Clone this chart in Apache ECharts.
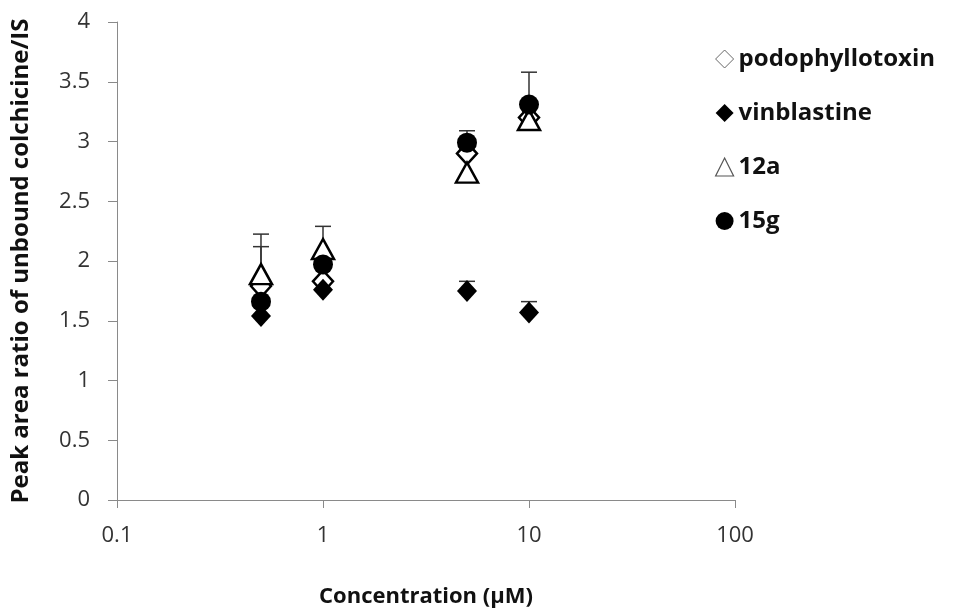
<!DOCTYPE html>
<html>
<head>
<meta charset="utf-8">
<script src="https://cdn.jsdelivr.net/npm/echarts@6/dist/echarts.min.js"></script>
<style>
  html, body { margin: 0; padding: 0; background: #fff; }
  #main { width: 956px; height: 613px; }
</style>
</head>
<body>
<div id="main"></div>
<script>
// data
var conc = [0.5, 1, 5, 10];
var podo = [1.79, 1.83, 2.9, 3.2];
var podoErr = [0.33, 0, 0, 0];
var vinb = [1.54, 1.76, 1.75, 1.57];
var vinbErr = [0, 0, 0.08, 0.09];
var c12a = [1.89, 2.1, 2.74, 3.18];
var c12aErr = [0.335, 0.19, 0, 0];
var c15g = [1.66, 1.97, 2.99, 3.31];
var c15gErr = [0, 0, 0.1, 0.27];
var yTicks = [0, 0.5, 1, 1.5, 2, 2.5, 3, 3.5, 4];

var FONT = "Open Sans";

function pairs(ys) {
  return conc.map(function (x, i) { return [x, ys[i]]; });
}
function errData(ys, es) {
  return conc.map(function (x, i) { return [x, ys[i], es[i]]; });
}

// upper error bars drawn with a custom series
function errSeries(ys, es) {
  return {
    type: "custom",
    silent: true,
    z: 1,
    data: errData(ys, es),
    renderItem: function (params, api) {
      var x = api.value(0), y = api.value(1), e = api.value(2);
      if (!e) return;
      var p0 = api.coord([x, y]);
      var p1 = api.coord([x, y + e]);
      var st = { stroke: "#333", lineWidth: 1.5 };
      return {
        type: "group",
        children: [
          { type: "line", shape: { x1: p0[0], y1: p0[1], x2: p1[0], y2: p1[1] }, style: st },
          { type: "line", shape: { x1: p1[0] - 8, y1: p1[1], x2: p1[0] + 8, y2: p1[1] }, style: st }
        ]
      };
    }
  };
}

var chartDom = document.getElementById("main");
var myChart = echarts.init(chartDom);
var option;

option = {
  animation: false,
  textStyle: { fontFamily: FONT },
  grid: { left: 117, right: 221, top: 22, bottom: 111 },
  legend: {
    orient: "vertical",
    left: 710,
    top: 42,
    itemGap: 30,
    itemWidth: 18,
    itemHeight: 18,
    textStyle: { fontFamily: FONT, fontSize: 24, fontWeight: "bold", color: "#111" },
    data: [
      { name: "podophyllotoxin", itemStyle: { color: "#fff", borderColor: "#666", borderWidth: 1 } },
      { name: "vinblastine" },
      { name: "12a", itemStyle: { color: "#fff", borderColor: "#555", borderWidth: 1.2 } },
      { name: "15g" }
    ]
  },
  xAxis: {
    type: "log",
    logBase: 10,
    min: 0.1,
    max: 100,
    name: "Concentration (µM)",
    nameLocation: "middle",
    nameGap: 86,
    nameTextStyle: { fontFamily: FONT, fontSize: 22, fontWeight: "bold", color: "#111" },
    axisLine: { lineStyle: { color: "#8a8a8a", width: 1 } },
    axisTick: { show: true, length: 8, lineStyle: { color: "#8a8a8a" } },
    minorTick: { show: false },
    splitLine: { show: false },
    axisLabel: { fontFamily: FONT, fontSize: 22, color: "#333", margin: 25 }
  },
  yAxis: {
    type: "value",
    min: 0,
    max: 4,
    interval: 0.5,
    name: "Peak area ratio of unbound colchicine/IS",
    nameLocation: "middle",
    nameGap: 84,
    nameTextStyle: { fontFamily: FONT, fontSize: 24, fontWeight: "bold", color: "#111" },
    axisLine: { show: true, lineStyle: { color: "#8a8a8a", width: 1 } },
    axisTick: { show: true, length: 9, lineStyle: { color: "#8a8a8a" } },
    splitLine: { show: false },
    axisLabel: {
      fontFamily: FONT, fontSize: 22, color: "#333", margin: 27,
      formatter: function (v) { return yTicks.indexOf(v) >= 0 ? String(v) : ""; }
    }
  },
  series: [
    errSeries(podo, podoErr),
    errSeries(vinb, vinbErr),
    errSeries(c12a, c12aErr),
    errSeries(c15g, c15gErr),
    {
      name: "podophyllotoxin", type: "scatter", z: 2,
      symbol: "diamond", symbolSize: [20, 22],
      itemStyle: { color: "#fff", borderColor: "#000", borderWidth: 2.5, opacity: 1 },
      data: pairs(podo)
    },
    {
      name: "vinblastine", type: "scatter", z: 2,
      symbol: "diamond", symbolSize: [20, 22],
      itemStyle: { color: "#000", opacity: 1 },
      data: pairs(vinb)
    },
    {
      name: "12a", type: "scatter", z: 2,
      symbol: "triangle", symbolSize: [22, 20],
      itemStyle: { color: "#fff", borderColor: "#000", borderWidth: 2.5, opacity: 1 },
      data: pairs(c12a)
    },
    {
      name: "15g", type: "scatter", z: 2,
      symbol: "circle", symbolSize: 20,
      itemStyle: { color: "#000", opacity: 1 },
      data: pairs(c15g)
    }
  ]
};

option && myChart.setOption(option);
</script>
</body>
</html>
